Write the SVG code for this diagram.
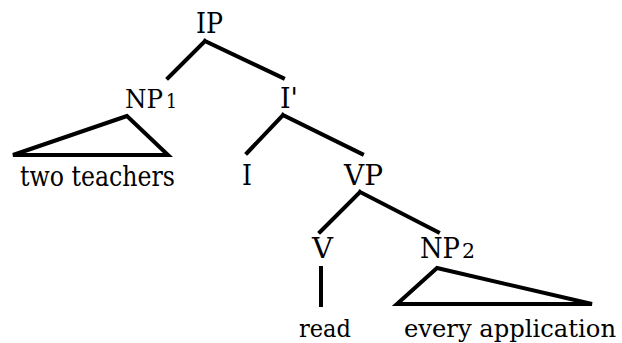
<svg xmlns="http://www.w3.org/2000/svg" width="622" height="343" viewBox="0 0 622 343">
<style>
text{font-family:'DejaVu Serif',serif;font-size:27px;fill:#000}
.sub{font-size:20px}
.np{font-size:26px}
.sm{font-size:24.5px}
.e{stroke:#000;stroke-width:4;fill:none;stroke-linecap:square;stroke-linejoin:miter}
</style>
<rect width="622" height="343" fill="#fff"/>
<g id="connectors">
<path class="e" d="M205,41 L168,78 M205,41 L283,78"/>
<path class="e" d="M283,115 L247,153 M283,115 L362,154"/>
<path class="e" d="M360,192 L320,232 M360,192 L438,232"/>
<path class="e" d="M321,268 L321,305"/>
<path class="e" d="M127,116 L13,155 L168,155 Z"/>
<path class="e" d="M437,268 L397,304 L592,304 Z"/>
</g>
<g id="IP"><text x="196" y="33" textLength="27" lengthAdjust="spacingAndGlyphs">IP</text></g>
<g id="NP1"><text class="np" x="125" y="108" textLength="38" lengthAdjust="spacingAndGlyphs">NP</text><text class="sub" x="166" y="108" textLength="11" lengthAdjust="spacingAndGlyphs">1</text></g>
<g id="Ibar"><text x="280" y="108" textLength="18" lengthAdjust="spacingAndGlyphs">I'</text></g>
<g id="two-teachers"><text x="20" y="186" textLength="155" lengthAdjust="spacingAndGlyphs">two teachers</text></g>
<g id="I"><text x="242" y="185" textLength="10" lengthAdjust="spacingAndGlyphs">I</text></g>
<g id="VP"><text x="344" y="185" textLength="39" lengthAdjust="spacingAndGlyphs">VP</text></g>
<g id="V"><text x="312" y="258" textLength="21" lengthAdjust="spacingAndGlyphs">V</text></g>
<g id="NP2"><text x="420" y="258" textLength="40" lengthAdjust="spacingAndGlyphs">NP</text><text class="sub" x="462" y="258" textLength="13" lengthAdjust="spacingAndGlyphs">2</text></g>
<g id="read"><text class="sm" x="299" y="337" textLength="52" lengthAdjust="spacingAndGlyphs">read</text></g>
<g id="every-application"><text class="sm" x="404" y="337" textLength="212" lengthAdjust="spacingAndGlyphs">every application</text></g>
</svg>
